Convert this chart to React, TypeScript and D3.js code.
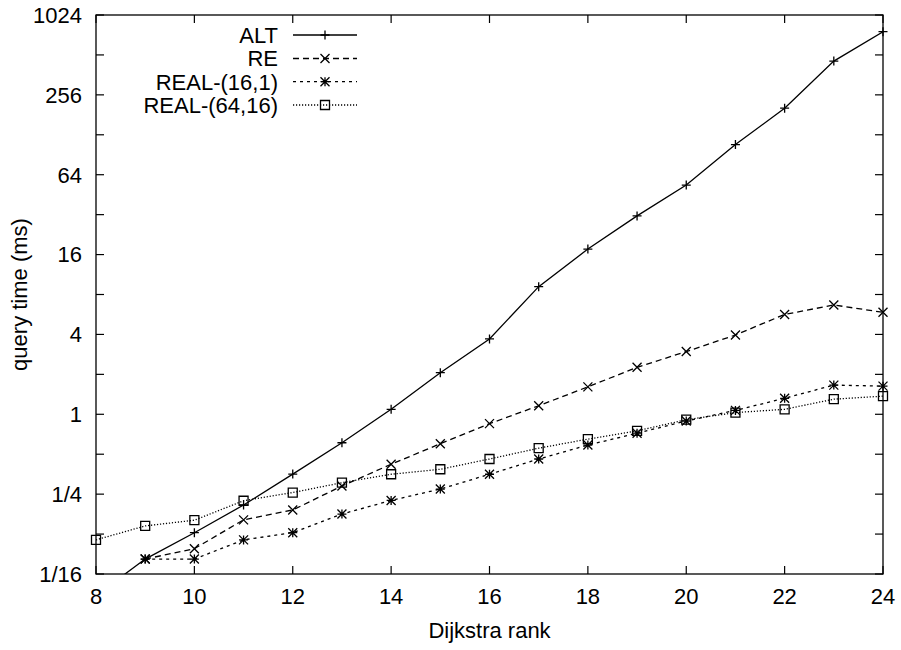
import { useRef, useEffect } from "react";
import * as d3 from "d3";

const ranks = [8, 9, 10, 11, 12, 13, 14, 15, 16, 17, 18, 19, 20, 21, 22, 23, 24];
const altValues = [0.043, 0.081, 0.128, 0.207, 0.354, 0.61, 1.09, 2.06, 3.7, 9.17, 17.6, 31.3, 53.5, 108, 203, 460, 766];
const reValues = [null, 0.081, 0.097, 0.16, 0.19, 0.288, 0.42, 0.6, 0.85, 1.16, 1.61, 2.26, 2.97, 3.96, 5.66, 6.67, 5.87];
const real161Values = [null, 0.081, 0.081, 0.113, 0.128, 0.177, 0.224, 0.273, 0.353, 0.46, 0.586, 0.72, 0.89, 1.07, 1.32, 1.66, 1.63];
const real6416Values = [0.113, 0.144, 0.159, 0.223, 0.257, 0.305, 0.353, 0.385, 0.46, 0.555, 0.65, 0.75, 0.91, 1.03, 1.09, 1.3, 1.37];

const seriesNames = ["ALT", "RE", "REAL-(16,1)", "REAL-(64,16)"];
const xTicks = [8, 10, 12, 14, 16, 18, 20, 22, 24];
const yTickValues = [1 / 16, 1 / 4, 1, 4, 16, 64, 256, 1024];
const yTickLabels = ["1/16", "1/4", "1", "4", "16", "64", "256", "1024"];

const W = 901;
const H = 650;
const FONT = "'Liberation Sans', Arial, Helvetica, sans-serif";

type Pt = { x: number; y: number | null };

export default function App() {
  const svgRef = useRef<SVGSVGElement>(null);

  useEffect(() => {
    const svg = d3.select(svgRef.current);
    svg.selectAll("*").remove();

    const left = 96, right = 883, top = 15, bottom = 574;
    const x = d3.scaleLinear().domain([8, 24]).range([left, right]);
    const y = d3.scaleLog().base(2).domain([1 / 16, 1024]).range([bottom, top]);

    svg.append("defs").append("clipPath").attr("id", "plot-clip")
      .append("rect")
      .attr("x", left).attr("y", top)
      .attr("width", right - left).attr("height", bottom - top);

    // ticks (inward, mirrored)
    const tickLen = 8;
    const ticks = svg.append("g").attr("stroke", "#000").attr("stroke-width", 1.2);
    xTicks.forEach(t => {
      ticks.append("line").attr("x1", x(t)).attr("x2", x(t)).attr("y1", bottom).attr("y2", bottom - tickLen);
      ticks.append("line").attr("x1", x(t)).attr("x2", x(t)).attr("y1", top).attr("y2", top + tickLen);
    });
    d3.range(-4, 11).forEach(p => {
      const v = Math.pow(2, p);
      ticks.append("line").attr("x1", left).attr("x2", left + tickLen).attr("y1", y(v)).attr("y2", y(v));
      ticks.append("line").attr("x1", right).attr("x2", right - tickLen).attr("y1", y(v)).attr("y2", y(v));
    });

    // tick labels
    const labels = svg.append("g").attr("font-family", FONT).attr("font-size", 22).attr("fill", "#000");
    xTicks.forEach(t => {
      labels.append("text").attr("x", x(t)).attr("y", 604).attr("text-anchor", "middle").text(String(t));
    });
    yTickValues.forEach((v, i) => {
      labels.append("text").attr("x", 82).attr("y", y(v)).attr("dy", "0.36em")
        .attr("text-anchor", "end").text(yTickLabels[i]);
    });

    labels.append("text").attr("x", (left + right) / 2).attr("y", 638)
      .attr("text-anchor", "middle").text("Dijkstra rank");
    labels.append("text")
      .attr("transform", `translate(27,${(top + bottom) / 2}) rotate(-90)`)
      .attr("text-anchor", "middle").text("query time (ms)");

    const seriesValues = [altValues, reValues, real161Values, real6416Values];
    const dashes = ["none", "6,4", "3,4", "1.2,1.8"];

    const markerPath = (kind: number, cx: number, cy: number) => {
      const s = 4.5;
      const plus = `M${cx - s},${cy}H${cx + s}M${cx},${cy - s}V${cy + s}`;
      const cross = `M${cx - s},${cy - s}L${cx + s},${cy + s}M${cx - s},${cy + s}L${cx + s},${cy - s}`;
      if (kind === 0) return plus;
      if (kind === 1) return cross;
      if (kind === 2) return plus + cross;
      return `M${cx - s},${cy - s}H${cx + s}V${cy + s}H${cx - s}Z`;
    };

    const line = d3.line<Pt>()
      .defined(d => d.y != null)
      .x(d => x(d.x))
      .y(d => y(d.y as number));

    seriesValues.forEach((vals, k) => {
      const pts: Pt[] = ranks.map((r, i) => ({ x: r, y: vals[i] }));
      svg.append("path")
        .datum(pts)
        .attr("d", line)
        .attr("clip-path", "url(#plot-clip)")
        .attr("fill", "none")
        .attr("stroke", "#000")
        .attr("stroke-width", 1.3)
        .attr("stroke-dasharray", dashes[k]);

      const mk = svg.append("g").attr("fill", "none").attr("stroke", "#000").attr("stroke-width", 1.3);
      pts.filter(d => d.y != null && (d.y as number) >= 1 / 16).forEach(d => {
        mk.append("path").attr("d", markerPath(k, x(d.x), y(d.y as number)));
      });
    });

    // legend
    const legendY = [35, 58.5, 81.7, 105];
    seriesNames.forEach((name, k) => {
      const ly = legendY[k];
      labels.append("text").attr("x", 278).attr("y", ly).attr("dy", "0.36em")
        .attr("text-anchor", "end").text(name);
      svg.append("line").attr("x1", 293).attr("x2", 357).attr("y1", ly).attr("y2", ly)
        .attr("stroke", "#000").attr("stroke-width", 1.3).attr("stroke-dasharray", dashes[k]);
      svg.append("path").attr("d", markerPath(k, 325, ly))
        .attr("fill", "none").attr("stroke", "#000").attr("stroke-width", 1.3);
    });

    // frame
    svg.append("rect")
      .attr("x", left).attr("y", top)
      .attr("width", right - left).attr("height", bottom - top)
      .attr("fill", "none").attr("stroke", "#000").attr("stroke-width", 1.3);
  }, []);

  return (
    <svg
      ref={svgRef}
      width={W}
      height={H}
      style={{ position: "absolute", left: 0, top: 0, background: "#fff", display: "block" }}
    />
  );
}
